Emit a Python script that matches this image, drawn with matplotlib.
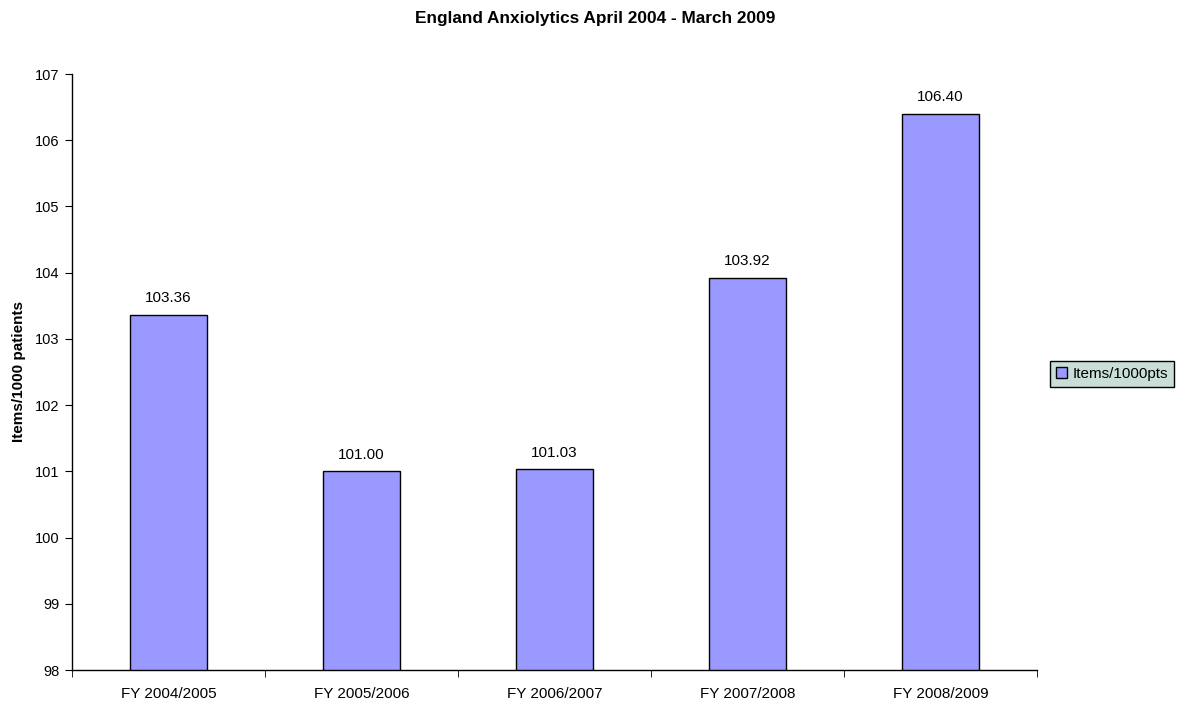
import matplotlib
matplotlib.use("Agg")
import matplotlib.pyplot as plt
import numpy as np

categories = ["FY 2004/2005", "FY 2005/2006", "FY 2006/2007", "FY 2007/2008", "FY 2008/2009"]
values = [103.36, 101.00, 101.03, 103.92, 106.40]
labels = ["103.36", "101.00", "101.03", "103.92", "106.40"]
series_name = "Items/1000pts"

plt.rcParams['font.family'] = ['Liberation Sans', 'DejaVu Sans']

fig = plt.figure(figsize=(11.89, 7.04), dpi=100)
ax = fig.add_axes([72/1189, 1-670/704, (1037-72)/1189, (670-74)/704])

x = np.arange(len(categories))
bars = ax.bar(x, values, width=0.40, bottom=0, color='#9999FF', edgecolor='black',
              linewidth=1.0, label=series_name)
ax.set_ylim(98, 107)
ax.set_xlim(-0.5, len(categories)-0.5)
ax.set_yticks(range(98, 108))
ax.set_xticks(x)
ax.set_xticklabels(categories, fontsize=11)
ax.set_xticks(np.arange(-0.5, len(categories)), minor=True)
ax.tick_params(axis='x', which='major', length=0, pad=12)
ax.tick_params(axis='x', which='minor', length=5, direction='out')
ax.tick_params(axis='y', length=5, direction='out', labelsize=10.5, pad=4)
for s in ['top', 'right']:
    ax.spines[s].set_visible(False)
for s in ['left', 'bottom']:
    ax.spines[s].set_linewidth(1.0)

for xi, v, lab in zip(x, values, labels):
    ax.annotate(lab, (xi, v), xytext=(0, 7), textcoords='offset points',
                ha='center', va='bottom', fontsize=11)

ax.set_ylabel("Items/1000 patients", fontsize=11, fontweight='bold', labelpad=10)
ax.yaxis.set_label_coords(-46/965, 0.5)
fig.text(595/1189, 1-19/704, "England Anxiolytics April 2004 - March 2009",
         ha='center', va='center', fontsize=12.4, fontweight='bold')

leg = fig.legend(handles=[bars], labels=[series_name], loc='center left',
                 bbox_to_anchor=(1050/1189, 1-374/704), fontsize=11,
                 frameon=True, fancybox=False, handlelength=0.7, handleheight=0.7,
                 handletextpad=0.35, borderpad=0.4, borderaxespad=0)
leg.get_frame().set_facecolor('#C9DED6')
leg.get_frame().set_edgecolor('black')
leg.get_frame().set_linewidth(1.0)
leg.get_frame().set_alpha(1)

fig.savefig("out.png", dpi=100)
